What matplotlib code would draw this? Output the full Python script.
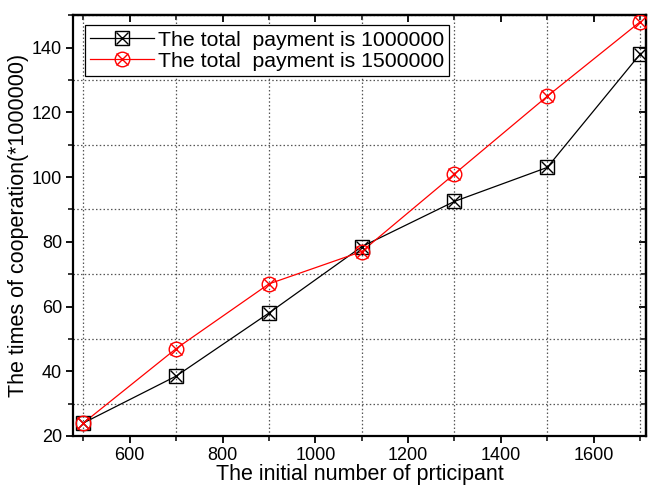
import numpy as np
import matplotlib.pyplot as plt
from matplotlib.lines import Line2D
from matplotlib.ticker import MultipleLocator

plt.rcParams['font.family'] = ['Liberation Sans', 'DejaVu Sans']

participants = [500, 700, 900, 1100, 1300, 1500, 1700]
coop_1000000 = [24, 38.5, 58, 78.5, 92.5, 103, 138]
coop_1500000 = [24, 47, 67, 77, 101, 125, 148]
labels = ["The total  payment is 1000000", "The total  payment is 1500000"]

fig = plt.figure(figsize=(6.48, 4.92), dpi=100)
ax = fig.add_axes([0.113, 0.114, 0.884, 0.856])

ax.plot(participants, coop_1000000, color='black', lw=0.9, zorder=3)
ax.plot(participants, coop_1000000, ls='none', marker='s', ms=9.5, mfc='none',
        mec='black', mew=1.0, zorder=4)
ax.plot(participants, coop_1000000, ls='none', marker='x', ms=8.5, mec='black',
        mew=1.0, zorder=4)

ax.plot(participants, coop_1500000, color='red', lw=0.9, zorder=3)
ax.plot(participants, coop_1500000, ls='none', marker='o', ms=10.5, mfc='none',
        mec='red', mew=1.0, zorder=5)
ax.plot(participants, coop_1500000, ls='none', marker='x', ms=8.5, mec='red',
        mew=1.0, zorder=5)

ax.set_xlim(478, 1713)
ax.set_ylim(20, 150.2)
ax.xaxis.set_major_locator(MultipleLocator(200))
ax.xaxis.set_minor_locator(MultipleLocator(100))
ax.yaxis.set_major_locator(MultipleLocator(20))
ax.yaxis.set_minor_locator(MultipleLocator(10))
ax.set_xticks([600, 800, 1000, 1200, 1400, 1600])

# grid sits on the odd positions (minor ticks)
ax.grid(which='minor', color='#555555', ls=(0, (1.2, 1.8)), lw=0.9)
ax.grid(which='major', visible=False)

ax.tick_params(which='major', direction='out', length=5, width=1.3, labelsize=13, pad=3)
ax.tick_params(which='minor', direction='out', length=3.5, width=1.1)

for side in ('top', 'right'):
    sec = ax.secondary_xaxis('top') if side == 'top' else ax.secondary_yaxis('right')
    axis = sec.xaxis if side == 'top' else sec.yaxis
    axis.set_major_locator(MultipleLocator(200 if side == 'top' else 20))
    axis.set_minor_locator(MultipleLocator(100 if side == 'top' else 10))
    sec.tick_params(which='major', direction='in', length=5, width=1.3,
                    labelleft=False, labelright=False, labeltop=False)
    sec.tick_params(which='minor', direction='in', length=3.5, width=1.1)
    for s in sec.spines.values():
        s.set_linewidth(1.6)

for s in ax.spines.values():
    s.set_linewidth(1.6)

ax.set_xlabel("The initial number of prticipant", fontsize=15.5, labelpad=0)
ax.set_ylabel("The times of cooperation(*1000000)", fontsize=15.5, labelpad=2)

handles = [
    (Line2D([], [], color='black', lw=0.9),
     Line2D([], [], ls='none', marker='s', ms=9.5, mfc='none', mec='black'),
     Line2D([], [], ls='none', marker='x', ms=8.5, mec='black')),
    (Line2D([], [], color='red', lw=0.9),
     Line2D([], [], ls='none', marker='o', ms=10.5, mfc='none', mec='red'),
     Line2D([], [], ls='none', marker='x', ms=8.5, mec='red')),
]
leg = ax.legend(handles, labels, loc='upper left', bbox_to_anchor=(0.02, 0.975),
                fontsize=15.3, frameon=True, fancybox=False, edgecolor='black',
                framealpha=1, handlelength=3.0, handletextpad=0.2,
                borderpad=0.25, labelspacing=0.1, borderaxespad=0)
leg.get_frame().set_linewidth(0.9)

fig.savefig('out.png', dpi=100)
